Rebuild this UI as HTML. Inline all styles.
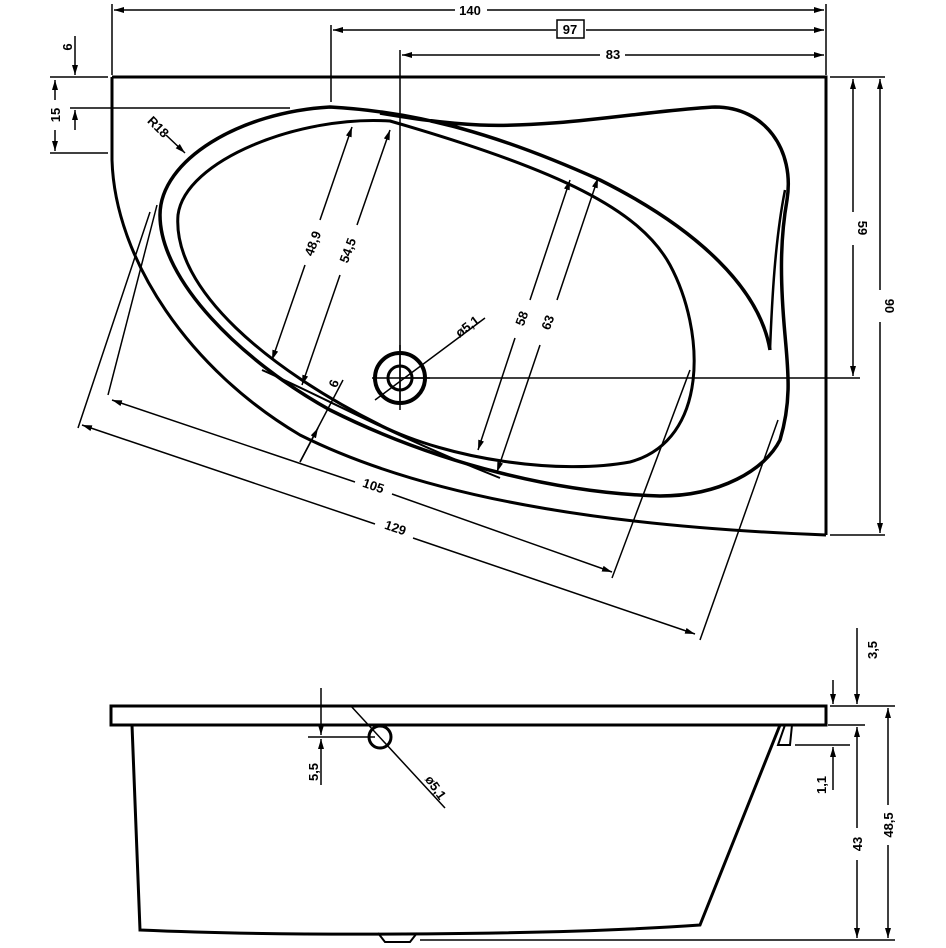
<!DOCTYPE html>
<html><head><meta charset="utf-8"><style>
html,body{margin:0;padding:0;background:#fff}
svg{display:block}
text{font-family:"Liberation Sans",sans-serif;font-size:13px;fill:#000;font-weight:bold}
</style></head><body>
<svg width="946" height="948" viewBox="0 0 946 948" xmlns="http://www.w3.org/2000/svg">
<defs>
<marker id="a" viewBox="0 0 10 6" refX="10" refY="3" markerWidth="10" markerHeight="6" orient="auto-start-reverse" markerUnits="userSpaceOnUse"><path d="M0,0 L10,3 L0,6 z" fill="#000"/></marker>
</defs>
<g fill="none" stroke="#000">
<!-- top dims -->
<g stroke-width="1.5">
<line x1="112" y1="4" x2="112" y2="75"/><line x1="826" y1="4" x2="826" y2="75"/>
<line x1="114" y1="10" x2="455" y2="10" marker-start="url(#a)"/><line x1="487" y1="10" x2="824" y2="10" marker-end="url(#a)"/>
<line x1="331" y1="25" x2="331" y2="102"/>
<line x1="333" y1="30" x2="556" y2="30" marker-start="url(#a)"/><line x1="586" y1="30" x2="824" y2="30" marker-end="url(#a)"/>
<rect x="557" y="20" width="27" height="18" stroke-width="1.5"/>
<line x1="400" y1="50" x2="400" y2="405"/>
<line x1="402" y1="55" x2="600" y2="55" marker-start="url(#a)"/><line x1="625" y1="55" x2="824" y2="55" marker-end="url(#a)"/>
<!-- left dims -->
<line x1="50" y1="77" x2="108" y2="77"/><line x1="50" y1="153" x2="108" y2="153"/>
<line x1="70" y1="108" x2="290" y2="108"/>
<line x1="55" y1="80" x2="55" y2="100" marker-start="url(#a)"/><line x1="55" y1="130" x2="55" y2="151" marker-end="url(#a)"/>
<line x1="75" y1="36" x2="75" y2="75" marker-end="url(#a)"/><line x1="75" y1="130" x2="75" y2="110" marker-end="url(#a)"/>
<!-- right dims -->
<line x1="830" y1="77" x2="885" y2="77"/><line x1="830" y1="535" x2="885" y2="535"/>
<line x1="400" y1="378" x2="860" y2="378"/>
<line x1="853" y1="79" x2="853" y2="212" marker-start="url(#a)"/><line x1="853" y1="245" x2="853" y2="376" marker-end="url(#a)"/>
<line x1="880" y1="79" x2="880" y2="290" marker-start="url(#a)"/><line x1="880" y1="322" x2="880" y2="533" marker-end="url(#a)"/>
<!-- diagonal dims -->
<line x1="352" y1="127" x2="320" y2="220" marker-start="url(#a)"/><line x1="305" y1="265" x2="272" y2="360" marker-end="url(#a)"/>
<line x1="390" y1="130" x2="357" y2="225" marker-start="url(#a)"/><line x1="340" y1="275" x2="302" y2="385" marker-end="url(#a)"/>
<line x1="570" y1="180" x2="530" y2="300" marker-start="url(#a)"/><line x1="515" y1="338" x2="478" y2="450" marker-end="url(#a)"/>
<line x1="598" y1="178" x2="557" y2="300" marker-start="url(#a)"/><line x1="540" y1="345" x2="497" y2="472" marker-end="url(#a)"/>
<line x1="343" y1="380" x2="300" y2="462"/><line x1="300" y1="462" x2="318" y2="428" marker-end="url(#a)"/>
<line x1="157" y1="205" x2="108" y2="395"/><line x1="690" y1="370" x2="612" y2="578"/>
<line x1="112" y1="400" x2="355" y2="482" marker-start="url(#a)"/><line x1="392" y1="494" x2="612" y2="572" marker-end="url(#a)"/>
<line x1="150" y1="212" x2="78" y2="428"/><line x1="778" y1="420" x2="700" y2="640"/>
<line x1="82" y1="425" x2="375" y2="524" marker-start="url(#a)"/><line x1="413" y1="538" x2="695" y2="634" marker-end="url(#a)"/>
<line x1="166" y1="135" x2="185" y2="153" marker-end="url(#a)"/>
<line x1="375" y1="400" x2="485" y2="318"/>
</g>
<!-- outline -->
<path d="M112,77 H826 V535 M112,77 V160 C115,260 190,370 300,435 C440,505 640,528 826,535" stroke-width="3"/>
<!-- rim outer -->
<path d="M770,350 C760,290 700,230 600,180 C500,135 420,112 330,107 C240,112 160,160 160,215 C160,280 240,360 330,410 C440,465 560,493 660,496 C720,496 765,470 780,440 C792,400 788,370 785,335 C780,280 780,240 787,200 C795,150 765,107 715,107 C650,110 560,128 480,125 C440,123 410,118 380,113" stroke-width="3.5"/>
<path d="M770,350 C772,300 775,240 785,190" stroke-width="2.5"/>
<!-- inner loop -->
<path d="M390,121 C300,115 185,160 178,215 C172,290 270,370 380,425 C450,460 560,475 630,462 C710,440 705,330 670,265 C640,210 560,170 390,121 Z" stroke-width="3"/>
<path d="M262,370 C330,400 380,430 500,478" stroke-width="2"/>
<!-- drain -->
<circle cx="400" cy="378" r="25" stroke-width="4"/>
<circle cx="400" cy="378" r="12" stroke-width="3"/>
<line x1="400" y1="345" x2="400" y2="410" stroke-width="1.5"/>
<line x1="372" y1="378" x2="430" y2="378" stroke-width="1.5"/>
<!-- side view -->
<rect x="111" y="706" width="715" height="19" stroke-width="3"/>
<path d="M132,725 L140,930 C300,937 560,935 700,925 L780,725" stroke-width="3"/>
<path d="M378,933 L385,942 L410,942 L417,933" stroke-width="2"/>
<path d="M785,725 L778,745 L790,745 L792,725" stroke-width="2"/>
<circle cx="380" cy="737" r="11" stroke-width="3"/>
<g stroke-width="1.5">
<line x1="350" y1="705" x2="445" y2="808"/>
<line x1="420" y1="940" x2="895" y2="940"/>
<line x1="321" y1="688" x2="321" y2="735" marker-end="url(#a)"/><line x1="321" y1="785" x2="321" y2="739" marker-end="url(#a)"/>
<line x1="308" y1="737" x2="375" y2="737"/>
<line x1="830" y1="706" x2="895" y2="706"/><line x1="828" y1="725" x2="865" y2="725"/><line x1="795" y1="745" x2="850" y2="745"/>
<line x1="833" y1="680" x2="833" y2="704" marker-end="url(#a)"/><line x1="833" y1="790" x2="833" y2="747" marker-end="url(#a)"/>
<line x1="857" y1="628" x2="857" y2="704" marker-end="url(#a)"/>
<line x1="857" y1="727" x2="857" y2="828" marker-start="url(#a)"/><line x1="857" y1="860" x2="857" y2="938" marker-end="url(#a)"/>
<line x1="888" y1="708" x2="888" y2="805" marker-start="url(#a)"/><line x1="888" y1="845" x2="888" y2="938" marker-end="url(#a)"/>
</g>
</g>
<text x="470" y="15" text-anchor="middle">140</text>
<text x="570" y="34" text-anchor="middle">97</text>
<text x="613" y="59" text-anchor="middle">83</text>
<text transform="translate(60,115) rotate(-90)" text-anchor="middle">15</text>
<text transform="translate(72,47) rotate(-90)" text-anchor="middle" font-size="11">6</text>
<text transform="translate(858,228) rotate(90)" text-anchor="middle">59</text>
<text transform="translate(885,306) rotate(90)" text-anchor="middle">90</text>
<text transform="translate(317,245) rotate(-70)" text-anchor="middle">48,9</text>
<text transform="translate(352,252) rotate(-70)" text-anchor="middle">54,5</text>
<text transform="translate(526,320) rotate(-70)" text-anchor="middle">58</text>
<text transform="translate(552,324) rotate(-70)" text-anchor="middle">63</text>
<text transform="translate(338,385) rotate(-70)" text-anchor="middle">6</text>
<text transform="translate(372,490) rotate(19)" text-anchor="middle">105</text>
<text transform="translate(394,532) rotate(19)" text-anchor="middle">129</text>
<text transform="translate(155,130) rotate(45)" text-anchor="middle">R18</text>
<text transform="translate(470,330) rotate(-37)" text-anchor="middle" font-size="15">ø5,1</text>
<text transform="translate(318,772) rotate(-90)" text-anchor="middle">5,5</text>
<text transform="translate(432,790) rotate(55)" text-anchor="middle" font-size="15">ø5,1</text>
<text transform="translate(877,650) rotate(-90)" text-anchor="middle">3,5</text>
<text transform="translate(862,844) rotate(-90)" text-anchor="middle">43</text>
<text transform="translate(893,825) rotate(-90)" text-anchor="middle">48,5</text>
<text transform="translate(826,785) rotate(-90)" text-anchor="middle" font-size="10" fill="#888">1,1</text>
</svg>
</body></html>
